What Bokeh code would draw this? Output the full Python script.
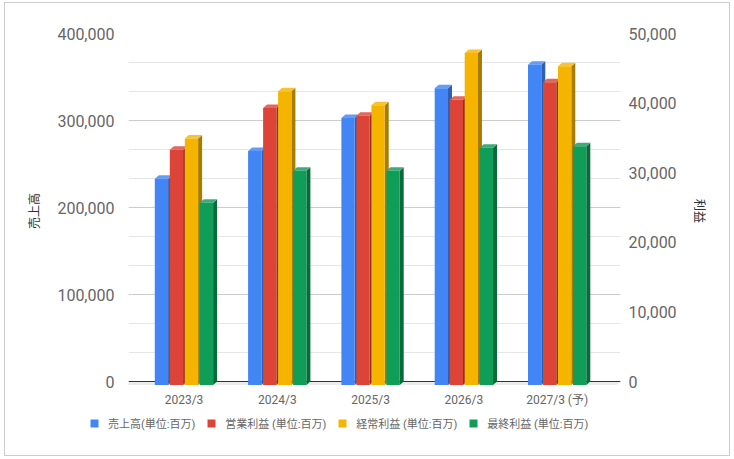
import math
from bokeh.plotting import figure
from bokeh.layouts import column, row
from bokeh.models import (Range1d, LinearAxis, SingleIntervalTicker, FixedTicker,
                          NumeralTickFormatter, Legend, LegendItem)
from bokeh.embed import file_html
from bokeh.resources import INLINE

# ---------------- data ----------------
categories = ["2023/3", "2024/3", "2025/3", "2026/3", "2027/3 (予)"]
series_names = ["売上高(単位:百万)", "営業利益 (単位:百万)", "経常利益 (単位:百万)", "最終利益 (単位:百万)"]
sales = [237000, 269000, 307000, 341000, 368000]          # left axis
operating_profit = [33800, 39800, 38700, 41000, 43500]     # right axis
ordinary_profit = [35400, 42200, 40200, 47700, 45800]      # right axis
net_profit = [26200, 30800, 30800, 34100, 34300]           # right axis
left_axis_title = "売上高"
right_axis_title = "利益"

# ---------------- style / layout ----------------
FONT = "Roboto, 'Noto Sans CJK JP', sans-serif"
W, H_CHART, H_LEG = 724, 412, 40
FRAME_PX_H = 348            # px for full value range
BELOW_PX = 7                # frame extends below baseline (floor)
LEFT_MAX, RIGHT_MAX = 400000, 50000
PXL = LEFT_MAX / FRAME_PX_H
PXR = RIGHT_MAX / FRAME_PX_H
CAT_PX = 93.3
FRAME_W = 492
X_START = -55.5 / CAT_PX
PXX = 1 / CAT_PX
DX, DY = 4.0, 3.5
BW = 13.3
OFFSETS = [-29.2, -14.2, 0.8, 15.8]

colors = [
    ("#4285f4", "#639cf7", "#2f5fae"),
    ("#db4437", "#e2685d", "#952f26"),
    ("#f4b400", "#f7c331", "#a87c00"),
    ("#0f9d58", "#3cad77", "#0b6a3c"),
]

p = figure(width=W, height=H_CHART,
           x_range=Range1d(X_START, X_START + FRAME_W / CAT_PX),
           y_range=Range1d(-BELOW_PX * PXL, LEFT_MAX),
           output_backend="svg", toolbar_location=None,
           min_border_left=123, min_border_right=109,
           min_border_top=30, min_border_bottom=27)
p.extra_y_ranges = {"right": Range1d(-BELOW_PX * PXR, RIGHT_MAX)}
p.outline_line_color = None
p.background_fill_color = "white"
p.border_fill_color = "white"

# grid
lt = SingleIntervalTicker(interval=100000, num_minor_ticks=3)
p.yaxis.ticker = lt
p.ygrid.ticker = lt
p.ygrid.grid_line_color = "#cccccc"
p.ygrid.minor_grid_line_color = "#e6e6e6"
p.xgrid.grid_line_color = None


def style_axis(ax, standoff, size):
    ax.axis_line_color = None
    ax.major_tick_line_color = None
    ax.minor_tick_line_color = None
    ax.major_tick_out = 0
    ax.major_tick_in = 0
    ax.minor_tick_out = 0
    ax.minor_tick_in = 0
    ax.major_label_standoff = standoff
    ax.major_label_text_font = FONT
    ax.major_label_text_font_size = size
    ax.major_label_text_color = "#666666"
    ax.axis_label_text_font = FONT
    ax.axis_label_text_font_size = "12px"
    ax.axis_label_text_font_style = "normal"
    ax.axis_label_text_color = "#333333"


# left axis
ya = p.yaxis[0]
ya.formatter = NumeralTickFormatter(format="0,0")
style_axis(ya, 14, "16px")
ya.axis_label = left_axis_title
ya.axis_label_standoff = 12

# right axis
ra = LinearAxis(y_range_name="right", ticker=SingleIntervalTicker(interval=10000),
                formatter=NumeralTickFormatter(format="0,0"))
style_axis(ra, 8, "16px")
ra.axis_label = right_axis_title
ra.axis_label_standoff = 12
p.add_layout(ra, "right")

# x axis
xa = p.xaxis[0]
xa.ticker = FixedTicker(ticks=list(range(len(categories))))
xa.major_label_overrides = {i: c for i, c in enumerate(categories)}
style_axis(xa, 4, "12px")

# floor + baseline
xs0 = p.x_range.start
xs1 = p.x_range.end
p.patch([xs0, xs1, xs1 - DX * PXX, xs0 - DX * PXX], [0, 0, -DY * PXL, -DY * PXL],
        fill_color="#ebebeb", line_color=None)
p.segment(x0=[xs0], y0=[0], x1=[xs1], y1=[0], line_color="#333333", line_width=1.2)

all_series = [(sales, "default", PXL), (operating_profit, "right", PXR),
              (ordinary_profit, "right", PXR), (net_profit, "right", PXR)]

for s, (vals, rn, u) in enumerate(all_series):
    front_c, top_c, side_c = colors[s]
    x0 = [k + OFFSETS[s] * PXX for k in range(len(vals))]
    x1 = [a + BW * PXX for a in x0]
    ft = [v - DY * u for v in vals]
    fb = -DY * u
    side_xs = [[b, b + DX * PXX, b + DX * PXX, b] for b in x1]
    side_ys = [[fb, 0, v, t] for v, t in zip(vals, ft)]
    top_xs = [[a, b, b + DX * PXX, a + DX * PXX] for a, b in zip(x0, x1)]
    top_ys = [[t, t, v, v] for v, t in zip(vals, ft)]
    p.patches(side_xs, side_ys, fill_color=side_c, line_color=None, y_range_name=rn)
    p.patches(top_xs, top_ys, fill_color=top_c, line_color=None, y_range_name=rn)
    p.quad(left=x0, right=x1, bottom=[fb] * len(vals), top=ft,
           fill_color=front_c, line_color=None, y_range_name=rn)

# ---------------- legend strip ----------------
lp = figure(width=W, height=H_LEG, x_range=Range1d(0, 1), y_range=Range1d(0, 1),
            x_axis_type=None, y_axis_type=None,
            output_backend="svg", toolbar_location=None,
            min_border_left=0, min_border_right=0, min_border_top=0, min_border_bottom=0)
lp.outline_line_color = None
lp.grid.grid_line_color = None
lp.background_fill_color = "white"
lp.border_fill_color = "white"
items = []
for s, name in enumerate(series_names):
    # legend swatch source, drawn outside the visible range
    r = lp.quad(left=[2], right=[3], bottom=[2], top=[3], fill_color=colors[s][0], line_color=None)
    items.append(LegendItem(label=name, renderers=[r]))
legend = Legend(items=items, orientation="horizontal", location=(84, 24),
                glyph_width=10, glyph_height=10, label_standoff=9, spacing=11,
                padding=0, margin=0, border_line_color=None, background_fill_alpha=0,
                label_text_font=FONT, label_text_font_size="11px",
                label_text_color="#666666", label_height=12)
lp.add_layout(legend, "center")

layout = column(row(p), row(lp), margin=(2, 0, 0, 4), styles={"border": "1px solid #cccccc"})

open("out.html", "w").write(file_html(layout, INLINE))
